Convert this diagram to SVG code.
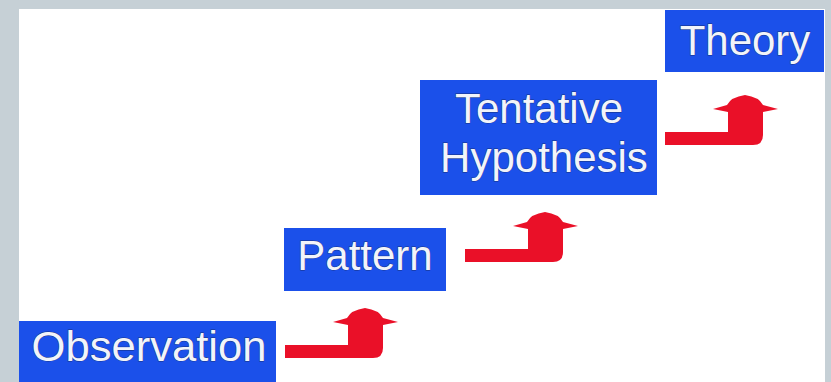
<svg xmlns="http://www.w3.org/2000/svg" width="831" height="382" viewBox="0 0 831 382">
<style>
.box{fill:#1b50ea}
.lbl{font-family:"Liberation Sans",Arial,sans-serif;font-size:42px;fill:#f2f4fa;text-anchor:middle;stroke:#173080;stroke-width:0.8;paint-order:stroke}
.arr{fill:#ea1028}
</style>
<defs>
<path id="bent" d="M0,0 H63 V-20 L48,-23 L62,-27 Q66,-35 80,-37 Q94,-35 98,-27 L113,-23 L98,-20 V3 Q98,13 88,13 H0 Z"/>
</defs>
<rect x="0" y="0" width="831" height="382" fill="#c6d0d6"/>
<rect x="19" y="9" width="806" height="373" fill="#ffffff"/>
<g id="connectors">
<use href="#bent" class="arr" transform="translate(285,345)"/>
<use href="#bent" class="arr" transform="translate(465,249)"/>
<use href="#bent" class="arr" transform="translate(665,132)"/>
</g>
<g id="observation">
<rect class="box" x="19" y="321" width="257" height="61"/>
<text class="lbl" x="149" y="361" textLength="235" lengthAdjust="spacingAndGlyphs">Observation</text>
</g>
<g id="pattern">
<rect class="box" x="284" y="228" width="162" height="63"/>
<text class="lbl" x="365" y="270">Pattern</text>
</g>
<g id="hypothesis">
<rect class="box" x="420" y="80" width="237" height="115"/>
<text class="lbl" x="539" y="123">Tentative</text>
<text class="lbl" x="544" y="172">Hypothesis</text>
</g>
<g id="theory">
<rect class="box" x="665" y="10" width="159" height="62"/>
<text class="lbl" x="745" y="55">Theory</text>
</g>
</svg>
